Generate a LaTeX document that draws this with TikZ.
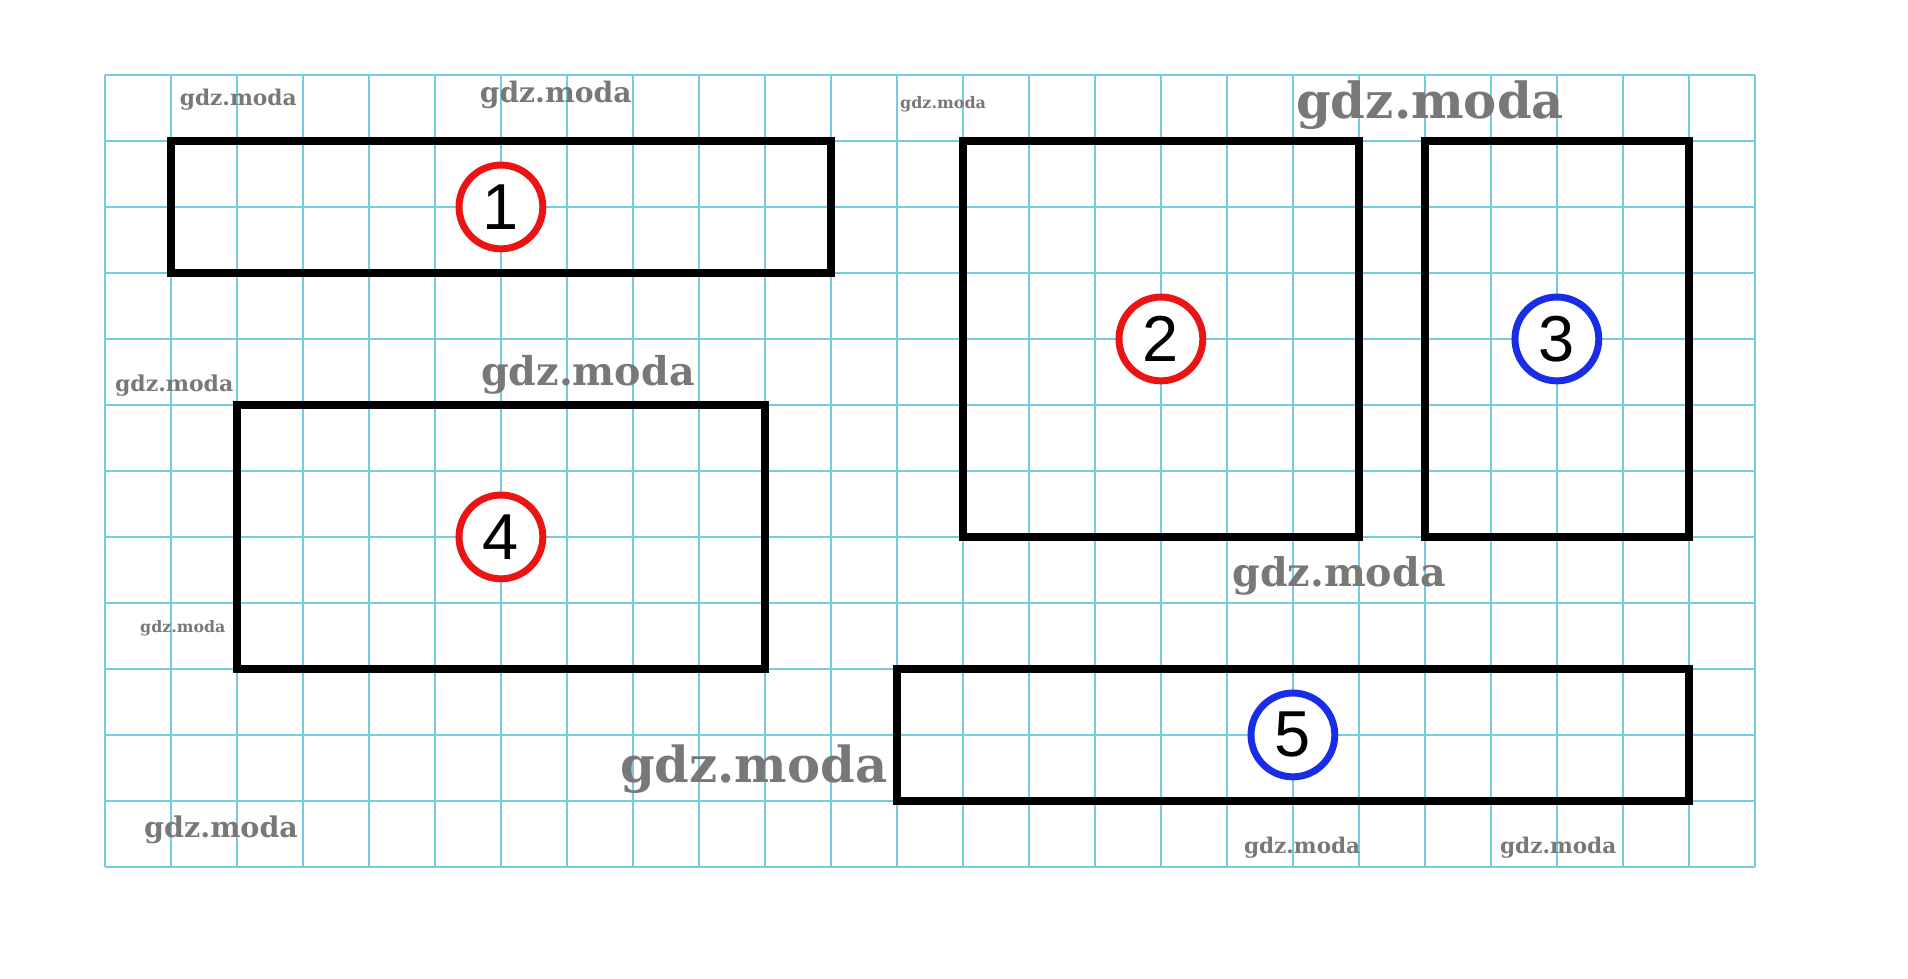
\documentclass[tikz,border=0pt]{standalone}
\usepackage{fontspec}
\setmainfont{Liberation Sans}
\newfontfamily\wmfont{DejaVu Serif}
\usepackage{graphicx}

\definecolor{gridcyan}{RGB}{115,205,225}
\definecolor{markred}{RGB}{235,20,20}
\definecolor{markblue}{RGB}{25,45,230}
\definecolor{wmgray}{RGB}{120,120,120}

\tikzset{
    gridline/.style = {gridcyan, line width=0.8pt},
    figbox/.style = {line width=3.6pt, line join=miter},
    mark/.style = {draw=#1, circle, fill=white, line width=3pt,
        minimum size=1.27cm, inner sep=0pt, font=\fontsize{28}{30}\selectfont},
    wm/.style = {inner sep=0pt, text=wmgray}
}
\newcommand{\wmtext}[1]{\resizebox{#1cm}{!}{\wmfont\bfseries gdz.moda}}

\begin{document}
\begin{tikzpicture}
        \useasboundingbox (-1.59, -1.697) rectangle (27.32, 13.136);
        \draw[gridline] (0, 0) grid (25, 12);

        \path
            (2.02, 11.62)  node (w1)  [wm] {\wmtext{1.77}}
            (6.83, 11.70)  node (w2)  [wm] {\wmtext{2.30}}
            (12.70, 11.55) node (w3)  [wm] {\wmtext{1.30}}
            (20.08, 11.55) node (w4)  [wm] {\wmtext{4.06}}
            (1.05, 7.30)   node (w5)  [wm] {\wmtext{1.79}}
            (7.32, 7.45)   node (w6)  [wm] {\wmtext{3.24}}
            (1.18, 3.61)   node (w7)  [wm] {\wmtext{1.29}}
            (18.70, 4.41)  node (w8)  [wm] {\wmtext{3.23}}
            (9.83, 1.48)   node (w9)  [wm] {\wmtext{4.05}}
            (1.76, 0.56)   node (w10) [wm] {\wmtext{2.33}}
            (18.14, 0.29)  node (w11) [wm] {\wmtext{1.76}}
            (22.02, 0.29)  node (w12) [wm] {\wmtext{1.76}};

        \draw[figbox]
            (1, 9)  rectangle (11, 11)
            (13, 5) rectangle (19, 11)
            (20, 5) rectangle (24, 11)
            (2, 3)  rectangle (10, 7)
            (12, 1) rectangle (24, 3);

        \draw
            (6, 10) node (m1) [mark=markred]  {1}
            (16, 8) node (m2) [mark=markred]  {2}
            (22, 8) node (m3) [mark=markblue] {3}
            (6, 5)  node (m4) [mark=markred]  {4}
            (18, 2) node (m5) [mark=markblue] {5};
    \end{tikzpicture}
\end{document}
